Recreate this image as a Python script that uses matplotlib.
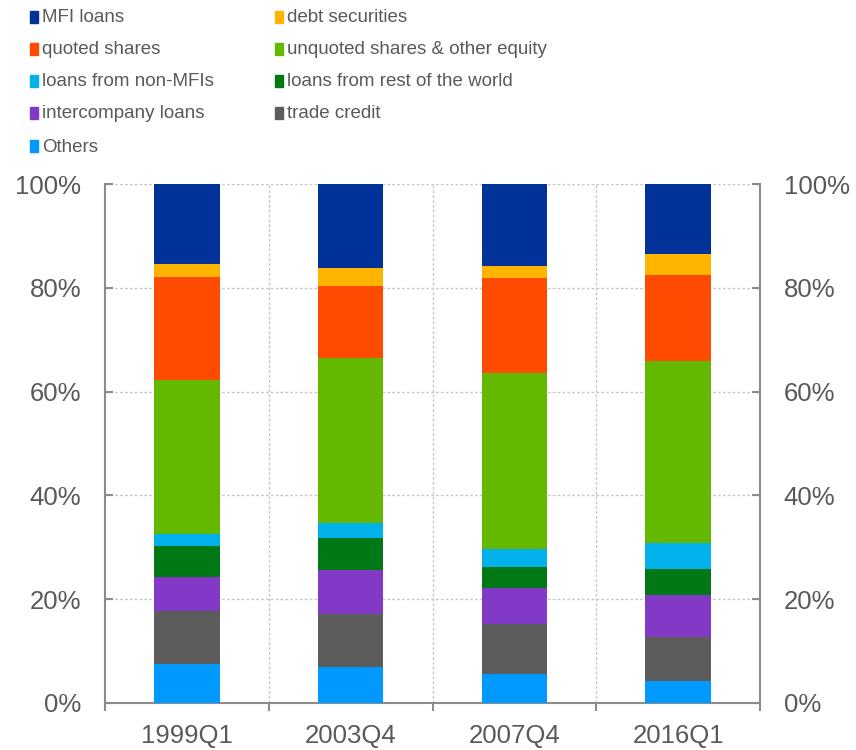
import matplotlib
matplotlib.use("Agg")
import matplotlib.pyplot as plt
from matplotlib.patches import Rectangle
import numpy as np

categories = ["1999Q1", "2003Q4", "2007Q4", "2016Q1"]

# stacked from bottom to top (percent of total)
others      = [7.6, 6.9, 5.6, 4.2]
trade       = [10.2, 10.3, 9.6, 8.6]
interco     = [6.4, 8.5, 6.9, 8.1]
rest_world  = [6.1, 6.0, 4.1, 5.0]
non_mfi     = [2.3, 2.9, 3.4, 4.9]
unquoted    = [29.7, 31.9, 34.0, 35.0]
quoted      = [19.8, 13.9, 18.2, 16.7]
debt        = [2.5, 3.4, 2.4, 4.1]
mfi         = [15.4, 16.2, 15.8, 13.4]

series = [
    ("Others", others, "#0099FF"),
    ("trade credit", trade, "#5C5C5C"),
    ("intercompany loans", interco, "#8139C6"),
    ("loans from rest of the world", rest_world, "#007816"),
    ("loans from non-MFIs", non_mfi, "#00B1EA"),
    ("unquoted shares & other equity", unquoted, "#65B800"),
    ("quoted shares", quoted, "#FF4B00"),
    ("debt securities", debt, "#FFB400"),
    ("MFI loans", mfi, "#003299"),
]

legend_order = [
    ["MFI loans", "quoted shares", "loans from non-MFIs", "intercompany loans", "Others"],
    ["debt securities", "unquoted shares & other equity", "loans from rest of the world", "trade credit"],
]

TXT = "#595959"
SPINE = "#8C8C8C"
W, H = 856, 750
fig = plt.figure(figsize=(W / 100, H / 100), dpi=100)
ax = fig.add_axes([105 / W, 1 - 703 / H, (760 - 105) / W, (703 - 184) / H])

x = np.arange(1, len(categories) + 1)
bottom = np.zeros(len(categories))
for name, vals, col in series:
    v = np.array(vals, dtype=float)
    ax.bar(x, v, width=0.4, bottom=bottom, color=col, edgecolor="none", zorder=3)
    bottom += v

ax.set_xlim(0.5, len(categories) + 0.5)
ax.set_ylim(0, 100)
ax.set_yticks([0, 20, 40, 60, 80, 100])
ax.set_yticklabels([f"{t}%" for t in [0, 20, 40, 60, 80, 100]])
ax.set_xticks(x)
ax.set_xticklabels(categories)
ax.set_xticks(np.arange(0.5, len(categories) + 1, 1.0), minor=True)

for t in [20, 40, 60, 80, 100]:
    ax.axhline(t, color="#C8C8C8", lw=1.0, ls=(0, (2, 1.5)), zorder=1)
for b in np.arange(1.5, len(categories), 1.0):
    ax.axvline(b, color="#C8C8C8", lw=1.0, ls=(0, (2, 1.5)), zorder=1)

for s in ["left", "right", "bottom"]:
    ax.spines[s].set_color(SPINE)
    ax.spines[s].set_linewidth(1.5)
ax.spines["top"].set_visible(False)

fs = 18.5
ax.tick_params(axis="y", which="major", direction="in", length=6, width=1.5,
               color=SPINE, labelsize=fs, labelcolor=TXT, pad=17,
               left=True, right=True, labelleft=True, labelright=True)
ax.tick_params(axis="x", which="major", length=0, labelsize=fs, labelcolor=TXT, pad=15)
ax.tick_params(axis="x", which="minor", direction="out", length=6, width=1.5, color=SPINE)
for lbl in ax.get_xticklabels() + ax.get_yticklabels():
    lbl.set_family(["Liberation Sans", "DejaVu Sans"])

# manual legend
color_of = {n: c for n, _, c in series}
col_x = [30, 275]
row_y = [17, 49, 81, 113, 146]
for ci, names in enumerate(legend_order):
    for ri, name in enumerate(names):
        mx = col_x[ci]
        my = row_y[ri]
        fig.patches.append(Rectangle((mx / W, 1 - (my + 6) / H), 8 / W, 12 / H,
                                     transform=fig.transFigure, color=color_of[name]))
        fig.text((mx + 12) / W, 1 - (my + 1) / H, name, ha="left", va="center",
                 fontsize=13.5, color=TXT,
                 family=["Liberation Sans", "DejaVu Sans"])

fig.savefig("out.png", dpi=100)
